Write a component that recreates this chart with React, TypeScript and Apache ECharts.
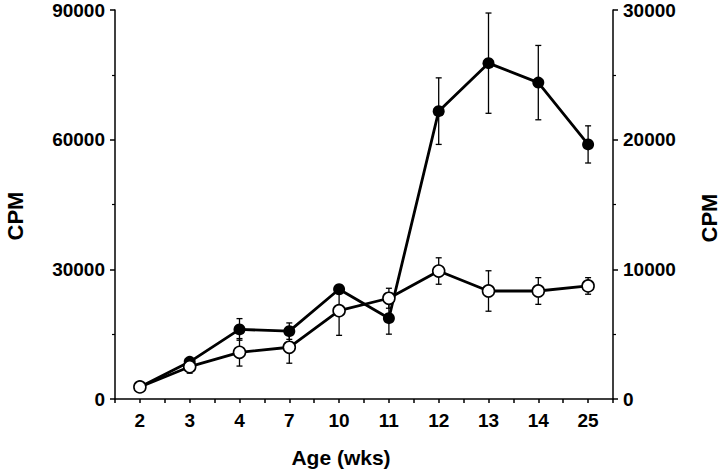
import React, { useEffect, useRef } from "react";
import * as echarts from "echarts";

const ages = ["2", "3", "4", "7", "10", "11", "12", "13", "14", "25"];
const filledValues = [2800, 8600, 16100, 15700, 25400, 18700, 66600, 77700, 73200, 58900];
const filledErrors = [600, 900, 2500, 1900, 800, 3700, 7700, 11600, 8600, 4300];
const openValues = [930, 2490, 3600, 3990, 6810, 7770, 9870, 8330, 8330, 8720];
const openErrors = [200, 500, 1060, 1230, 1900, 770, 1020, 1560, 1030, 640];
const leftTicks = { min: 0, max: 90000, interval: 30000 };
const rightTicks = { min: 0, max: 30000, interval: 10000 };

const FONT = "'Liberation Sans', Arial, Helvetica, sans-serif";
const INK = "#000";

function errorBars(params: any, api: any) {
  const x = api.value(0);
  const v = api.value(1);
  const e = api.value(2);
  const top = api.coord([x, v + e]);
  const bot = api.coord([x, v - e]);
  const hw = 3;
  const style = { stroke: INK, lineWidth: 1.3 };
  return {
    type: "group",
    children: [
      { type: "line", shape: { x1: top[0], y1: top[1], x2: bot[0], y2: bot[1] }, style },
      { type: "line", shape: { x1: top[0] - hw, y1: top[1], x2: top[0] + hw, y2: top[1] }, style },
      { type: "line", shape: { x1: bot[0] - hw, y1: bot[1], x2: bot[0] + hw, y2: bot[1] }, style },
    ],
  };
}

export default function App() {
  const ref = useRef<HTMLDivElement>(null);
  useEffect(() => {
    if (!ref.current) return;
    const chart = echarts.init(ref.current, null, { renderer: "svg" });
    const axisLabel = { color: INK, fontFamily: FONT, fontWeight: "bold", fontSize: 19 };
    const yCommon = {
      type: "value",
      axisLine: { show: true, lineStyle: { color: INK, width: 1.5 } },
      axisTick: { show: true, length: 5, lineStyle: { color: INK, width: 1.5 } },
      minorTick: { show: true, splitNumber: 2, length: 3, lineStyle: { color: INK, width: 1.2 } },
      splitLine: { show: false },
      minorSplitLine: { show: false },
      axisLabel: { ...axisLabel, margin: 10, formatter: (v: number) => String(v) },
    };
    chart.setOption({
      animation: false,
      backgroundColor: "#fff",
      grid: { left: 115, right: 107, top: 10, bottom: 73, containLabel: false },
      xAxis: [
        {
          type: "category",
          data: ages,
          boundaryGap: true,
          position: "bottom",
          axisLine: { show: true, lineStyle: { color: INK, width: 1.5 } },
          axisTick: { show: true, alignWithLabel: true, interval: 0, length: 4, lineStyle: { color: INK, width: 1.5 } },
          axisLabel: { ...axisLabel, interval: 0, margin: 12 },
          splitLine: { show: false },
        },
        {
          type: "category",
          data: ages,
          boundaryGap: true,
          position: "bottom",
          axisLine: { show: false },
          axisTick: { show: true, interval: 0, length: 4, lineStyle: { color: INK, width: 1.5 } },
          axisLabel: { show: false },
          splitLine: { show: false },
        },
      ],
      yAxis: [
        { ...yCommon, position: "left", ...leftTicks },
        { ...yCommon, position: "right", ...rightTicks },
      ],
      graphic: [
        {
          type: "text",
          x: 15,
          y: 216,
          rotation: Math.PI / 2,
          style: { text: "CPM", fill: INK, font: `bold 22px ${FONT}`, textAlign: "center", textVerticalAlign: "middle" },
        },
        {
          type: "text",
          x: 709,
          y: 218,
          rotation: Math.PI / 2,
          style: { text: "CPM", fill: INK, font: `bold 22px ${FONT}`, textAlign: "center", textVerticalAlign: "middle" },
        },
        {
          type: "text",
          x: 341,
          y: 457,
          style: { text: "Age (wks)", fill: INK, font: `bold 21px ${FONT}`, textAlign: "center", textVerticalAlign: "middle" },
        },
      ],
      series: [
        {
          type: "custom",
          xAxisIndex: 0,
          yAxisIndex: 0,
          renderItem: errorBars,
          encode: { x: 0, y: 1 },
          data: filledValues.map((v, i) => [i, v, filledErrors[i]]),
          z: 1,
          silent: true,
        },
        {
          type: "custom",
          xAxisIndex: 0,
          yAxisIndex: 1,
          renderItem: errorBars,
          encode: { x: 0, y: 1 },
          data: openValues.map((v, i) => [i, v, openErrors[i]]),
          z: 1,
          silent: true,
        },
        {
          type: "line",
          name: "filled",
          xAxisIndex: 0,
          yAxisIndex: 0,
          data: filledValues,
          symbol: "circle",
          symbolSize: 12,
          showAllSymbol: true,
          lineStyle: { color: INK, width: 2.8 },
          itemStyle: { color: INK, borderColor: INK, borderWidth: 0 },
          z: 3,
        },
        {
          type: "line",
          name: "open",
          xAxisIndex: 0,
          yAxisIndex: 1,
          data: openValues,
          symbol: "circle",
          symbolSize: 12,
          showAllSymbol: true,
          lineStyle: { color: INK, width: 2.8 },
          itemStyle: { color: "#fff", borderColor: INK, borderWidth: 1.6 },
          z: 4,
        },
      ],
    });
    return () => chart.dispose();
  }, []);
  return <div ref={ref} style={{ width: 720, height: 472, position: "absolute", left: 0, top: 0 }} />;
}
